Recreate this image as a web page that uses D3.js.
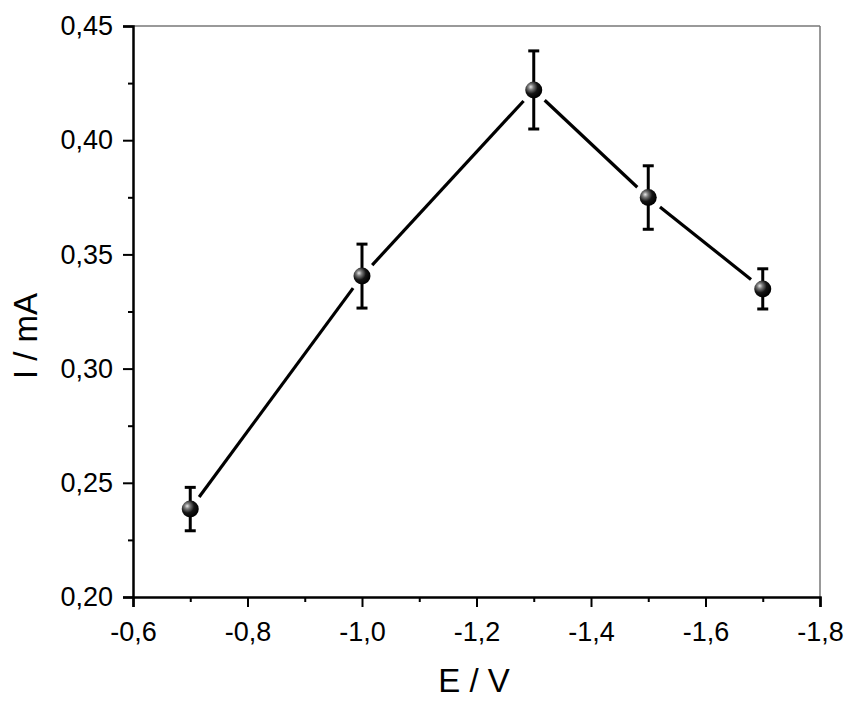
<!DOCTYPE html>
<html>
<head>
<meta charset="utf-8">
<script src="https://cdn.jsdelivr.net/npm/d3@7"></script>
<style>
  html, body { margin: 0; padding: 0; background: #fff; }
  svg { display: block; font-family: "Liberation Sans", Arial, sans-serif; }
</style>
</head>
<body>
<svg id="chart" width="848" height="701"></svg>
<script>
// Potential (V) and measured current (mA) with standard deviation
const potentials = [-0.7, -1.0, -1.3, -1.5, -1.7];
const currents   = [0.2385, 0.3405, 0.4220, 0.3749, 0.3349];
const errors     = [0.0095, 0.0140, 0.0171, 0.0139, 0.0088];
const xTicks = [-0.6, -0.8, -1.0, -1.2, -1.4, -1.6, -1.8];
const yTicks = [0.20, 0.25, 0.30, 0.35, 0.40, 0.45];

const svg = d3.select("#chart");
const m = { left: 133, right: 820, top: 26, bottom: 597 };

const x = d3.scaleLinear().domain([-0.6, -1.8]).range([m.left, m.right]);
const y = d3.scaleLinear().domain([0.20, 0.45]).range([m.bottom, m.top]);

const fmt = d => d3.format(".1f")(d).replace(".", ",").replace("−", "-");
const fmtY = d => d3.format(".2f")(d).replace(".", ",");

// Frame: thin grey top and right edges
svg.append("line").attr("x1", m.left).attr("x2", m.right).attr("y1", m.top).attr("y2", m.top)
  .attr("stroke", "#777").attr("stroke-width", 1.5);
svg.append("line").attr("x1", m.right).attr("x2", m.right).attr("y1", m.top).attr("y2", m.bottom)
  .attr("stroke", "#777").attr("stroke-width", 1.5);

// Minor ticks halfway between majors
const xMinor = d3.range(0, xTicks.length - 1).map(i => (xTicks[i] + xTicks[i + 1]) / 2);
const yMinor = d3.range(0, yTicks.length - 1).map(i => (yTicks[i] + yTicks[i + 1]) / 2);

svg.append("g").attr("transform", `translate(0,${m.bottom})`)
  .call(d3.axisBottom(x).tickValues(xTicks).tickFormat(fmt).tickSize(10).tickPadding(15));
svg.append("g").attr("transform", `translate(${m.left},0)`)
  .call(d3.axisLeft(y).tickValues(yTicks).tickFormat(fmtY).tickSize(10).tickPadding(10));

svg.append("g").attr("transform", `translate(0,${m.bottom})`)
  .call(d3.axisBottom(x).tickValues(xMinor).tickFormat("").tickSize(5))
  .call(g => g.select(".domain").remove());
svg.append("g").attr("transform", `translate(${m.left},0)`)
  .call(d3.axisLeft(y).tickValues(yMinor).tickFormat("").tickSize(5))
  .call(g => g.select(".domain").remove());

svg.selectAll(".domain").attr("stroke", "#000").attr("stroke-width", 2.5);
svg.selectAll(".tick line").attr("stroke", "#000").attr("stroke-width", 2);
svg.selectAll(".tick text").attr("fill", "#000").attr("font-size", 27)
  .attr("font-family", "'Liberation Sans', Arial, sans-serif");

// Axis titles
svg.append("text").attr("x", 474).attr("y", 692)
  .attr("text-anchor", "middle").attr("font-size", 33).text("E / V");
svg.append("text").attr("transform", `translate(37,336) rotate(-90)`)
  .attr("text-anchor", "middle").attr("font-size", 33).text("I / mA");

// Shaded sphere marker
const defs = svg.append("defs");
const grad = defs.append("radialGradient").attr("id", "ball")
  .attr("cx", "35%").attr("cy", "35%").attr("r", "65%").attr("fx", "32%").attr("fy", "32%");
grad.append("stop").attr("offset", "0%").attr("stop-color", "#e8e8e8");
grad.append("stop").attr("offset", "25%").attr("stop-color", "#7a7a7a");
grad.append("stop").attr("offset", "60%").attr("stop-color", "#151515");
grad.append("stop").attr("offset", "100%").attr("stop-color", "#000");

const pts = potentials.map((p, i) => ({ x: x(p), y: y(currents[i]), e: errors[i], v: currents[i] }));

// Connecting segments, stopping short of each marker
const gap = 15;
const lines = svg.append("g");
for (let i = 0; i < pts.length - 1; i++) {
  const a = pts[i], b = pts[i + 1];
  const dx = b.x - a.x, dy = b.y - a.y, len = Math.hypot(dx, dy);
  const ux = dx / len, uy = dy / len;
  lines.append("line")
    .attr("x1", a.x + ux * gap).attr("y1", a.y + uy * gap)
    .attr("x2", b.x - ux * gap).attr("y2", b.y - uy * gap)
    .attr("stroke", "#000").attr("stroke-width", 3.2);
}

// Error bars
const eb = svg.append("g").attr("stroke", "#000").attr("stroke-width", 3);
pts.forEach(p => {
  const t = y(p.v + p.e), bt = y(p.v - p.e);
  eb.append("line").attr("x1", p.x).attr("x2", p.x).attr("y1", t).attr("y2", bt);
  eb.append("line").attr("x1", p.x - 5.5).attr("x2", p.x + 5.5).attr("y1", t).attr("y2", t);
  eb.append("line").attr("x1", p.x - 5.5).attr("x2", p.x + 5.5).attr("y1", bt).attr("y2", bt);
});

// Markers
svg.append("g").selectAll("circle").data(pts).join("circle")
  .attr("cx", d => d.x).attr("cy", d => d.y).attr("r", 8.5)
  .attr("fill", "url(#ball)");
</script>
</body>
</html>
